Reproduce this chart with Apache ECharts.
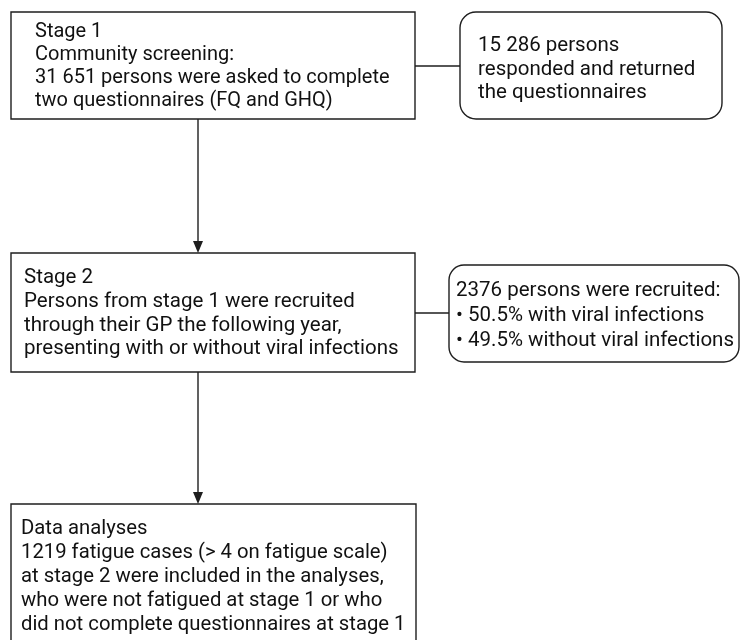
<!DOCTYPE html>
<html><head><meta charset="utf-8">
<script src="https://cdn.jsdelivr.net/npm/echarts@6/dist/echarts.min.js"></script>
<style>html,body{margin:0;padding:0;background:#fff}#c{width:741px;height:640px}</style>
</head><body><div id="c"></div>
<script>
// Flowchart content
const stage1Lines = ["Stage 1", "Community screening:", "31 651 persons were asked to complete", "two questionnaires (FQ and GHQ)"];
const stage1Side = ["15 286 persons", "responded and returned", "the questionnaires"];
const stage2Lines = ["Stage 2", "Persons from stage 1 were recruited", "through their GP the following year,", "presenting with or without viral infections"];
const stage2Side = ["2376 persons were recruited:", "\u2022 50.5% with viral infections", "\u2022 49.5% without viral infections"];
const stage3Lines = ["Data analyses", "1219 fatigue cases (> 4 on fatigue scale)", "at stage 2 were included in the analyses,", "who were not fatigued at stage 1 or who", "did not complete questionnaires at stage 1"];

const chart = echarts.init(document.getElementById('c'), null, {renderer: 'canvas'});
const FAMILY = 'Roboto, "Liberation Sans", Arial, sans-serif';
const STROKE = '#1e1e1e';
const LW = 1.4;

function box(x, y, w, h, r) {
  return {type: 'rect', shape: {x: x, y: y, width: w, height: h, r: r || 0},
    style: {fill: '#fff', stroke: STROKE, lineWidth: LW}};
}
function txt(lines, x, yFirstCenter, lh, size) {
  return {type: 'text', x: x, y: yFirstCenter - lh / 2,
    style: {text: lines.join('\n'), font: size + 'px ' + FAMILY, fill: '#111', lineHeight: lh,
      textAlign: 'left', textVerticalAlign: 'top'}};
}
function line(x1, y1, x2, y2) {
  return {type: 'line', shape: {x1: x1, y1: y1, x2: x2, y2: y2},
    style: {stroke: STROKE, lineWidth: LW}};
}
function arrowHead(x, tipY) {
  return {type: 'polygon', shape: {points: [[x - 5, tipY - 12], [x + 5, tipY - 12], [x, tipY]]},
    style: {fill: STROKE}};
}

const elements = [
  line(198, 119, 198, 242), arrowHead(198, 253),
  line(198, 372, 198, 493), arrowHead(198, 504),
  line(415, 66, 460, 66),
  line(415, 313, 449, 313),
  box(11, 12, 404, 107),
  box(460, 12, 262, 107, 16),
  box(11, 253, 404, 119),
  box(449, 265, 290, 97, 15),
  box(11, 504, 405, 150),
  txt(stage1Lines, 35, 32, 23, 20),
  txt(stage1Side, 478, 46, 23.5, 20.5),
  txt(stage2Lines, 24, 278, 23.7, 20.5),
  txt(stage2Side, 456, 291, 25, 20.5),
  txt(stage3Lines, 21, 529, 24, 20.3)
];

chart.setOption({
  animation: false,
  graphic: {elements: elements}
});
</script></body></html>
